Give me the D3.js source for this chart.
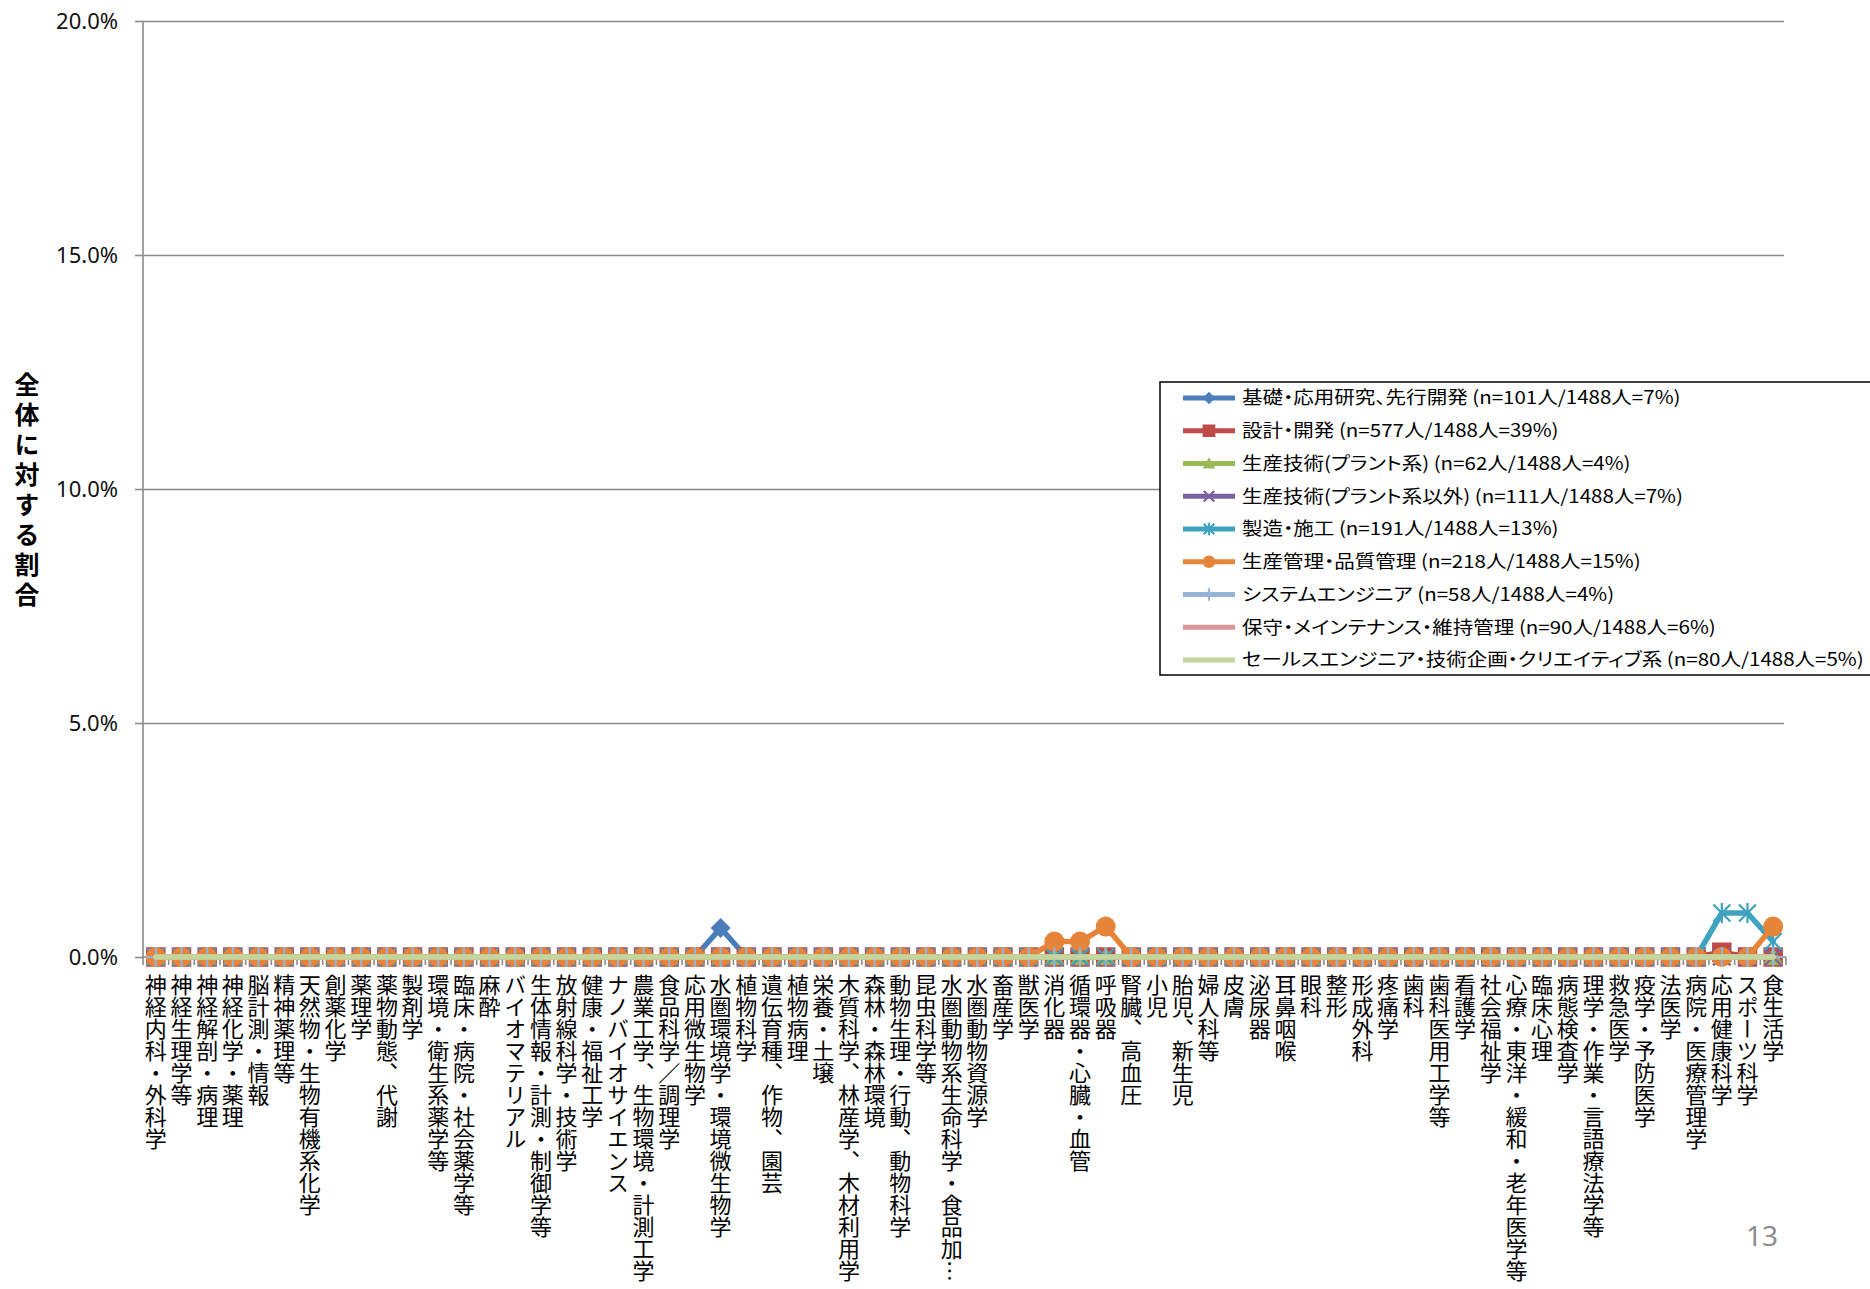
<!DOCTYPE html>
<html>
<head>
<meta charset="utf-8">
<script src="https://cdn.jsdelivr.net/npm/d3@7"></script>
<style>
  body { margin: 0; background: #fff; }
  svg { display: block; }
</style>
</head>
<body>
<svg id="chart" width="1870" height="1289"></svg>
<script>
// 研究分野（64区分）
const categories = [
  "神経内科・外科学", "神経生理学等", "神経解剖・病理", "神経化学・薬理", "脳計測・情報", "精神薬理等",
  "天然物・生物有機系化学", "創薬化学", "薬理学", "薬物動態、代謝", "製剤学", "環境・衛生系薬学等",
  "臨床・病院・社会薬学等", "麻酔", "バイオマテリアル", "生体情報・計測・制御学等", "放射線科学・技術学",
  "健康・福祉工学", "ナノバイオサイエンス", "農業工学、生物環境・計測工学", "食品科学／調理学", "応用微生物学",
  "水圏環境学・環境微生物学", "植物科学", "遺伝育種、作物、園芸", "植物病理", "栄養・土壌",
  "木質科学、林産学、木材利用学", "森林・森林環境", "動物生理・行動、動物科学", "昆虫科学等",
  "水圏動物系生命科学・食品加…", "水圏動物資源学", "畜産学", "獣医学", "消化器", "循環器・心臓・血管",
  "呼吸器", "腎臓、高血圧", "小児", "胎児、新生児", "婦人科等", "皮膚", "泌尿器", "耳鼻咽喉", "眼科",
  "整形", "形成外科", "疼痛学", "歯科", "歯科医用工学等", "看護学", "社会福祉学", "心療・東洋・緩和・老年医学等",
  "臨床心理", "病態検査学", "理学・作業・言語療法学等", "救急医学", "疫学・予防医学", "法医学",
  "病院・医療管理学", "応用健康科学", "スポーツ科学", "食生活学"
];

// 職種別の凡例ラベル
const seriesLabels = [
  "基礎・応用研究、先行開発 (n=101人/1488人=7%)",
  "設計・開発 (n=577人/1488人=39%)",
  "生産技術(プラント系) (n=62人/1488人=4%)",
  "生産技術(プラント系以外) (n=111人/1488人=7%)",
  "製造・施工 (n=191人/1488人=13%)",
  "生産管理・品質管理 (n=218人/1488人=15%)",
  "システムエンジニア (n=58人/1488人=4%)",
  "保守・メインテナンス・維持管理 (n=90人/1488人=6%)",
  "セールスエンジニア・技術企画・クリエイティブ系 (n=80人/1488人=5%)"
];

// 全体に対する割合（%）、分野の並び順
const kisoOyo = [
  0,0,0,0,0,0,0,0,
  0,0,0,0,0,0,0,0,
  0,0,0,0,0,0,0.62,0,
  0,0,0,0,0,0,0,0,
  0,0,0,0,0,0,0,0,
  0,0,0,0,0,0,0,0,
  0,0,0,0,0,0,0,0,
  0,0,0,0,0,0,0,0
];
const sekkeiKaihatsu = [
  0,0,0,0,0,0,0,0,
  0,0,0,0,0,0,0,0,
  0,0,0,0,0,0,0,0,
  0,0,0,0,0,0,0,0,
  0,0,0,0,0,0,0,0,
  0,0,0,0,0,0,0,0,
  0,0,0,0,0,0,0,0,
  0,0,0,0,0,0.1,0,0
];
const seisanPlant = [
  0,0,0,0,0,0,0,0,
  0,0,0,0,0,0,0,0,
  0,0,0,0,0,0,0,0,
  0,0,0,0,0,0,0,0,
  0,0,0,0,0,0,0,0,
  0,0,0,0,0,0,0,0,
  0,0,0,0,0,0,0,0,
  0,0,0,0,0,0,0,0
];
const seisanOther = [
  0,0,0,0,0,0,0,0,
  0,0,0,0,0,0,0,0,
  0,0,0,0,0,0,0,0,
  0,0,0,0,0,0,0,0,
  0,0,0,0,0,0,0,0,
  0,0,0,0,0,0,0,0,
  0,0,0,0,0,0,0,0,
  0,0,0,0,0,0,0,0
];
const seizoSeko = [
  0,0,0,0,0,0,0,0,
  0,0,0,0,0,0,0,0,
  0,0,0,0,0,0,0,0,
  0,0,0,0,0,0,0,0,
  0,0,0,0,0,0,0,0,
  0,0,0,0,0,0,0,0,
  0,0,0,0,0,0,0,0,
  0,0,0,0,0,0.94,0.94,0.33
];
const seisanKanri = [
  0,0,0,0,0,0,0,0,
  0,0,0,0,0,0,0,0,
  0,0,0,0,0,0,0,0,
  0,0,0,0,0,0,0,0,
  0,0,0,0.33,0.33,0.65,0,0,
  0,0,0,0,0,0,0,0,
  0,0,0,0,0,0,0,0,
  0,0,0,0,0,0,0,0.65
];
const systemEng = [
  0,0,0,0,0,0,0,0,
  0,0,0,0,0,0,0,0,
  0,0,0,0,0,0,0,0,
  0,0,0,0,0,0,0,0,
  0,0,0,0,0,0,0,0,
  0,0,0,0,0,0,0,0,
  0,0,0,0,0,0,0,0,
  0,0,0,0,0,0,0,0
];
const hoshuIji = [
  0,0,0,0,0,0,0,0,
  0,0,0,0,0,0,0,0,
  0,0,0,0,0,0,0,0,
  0,0,0,0,0,0,0,0,
  0,0,0,0,0,0,0,0,
  0,0,0,0,0,0,0,0,
  0,0,0,0,0,0,0,0,
  0,0,0,0,0,0,0,0
];
const salesEng = [
  0,0,0,0,0,0,0,0,
  0,0,0,0,0,0,0,0,
  0,0,0,0,0,0,0,0,
  0,0,0,0,0,0,0,0,
  0,0,0,0,0,0,0,0,
  0,0,0,0,0,0,0,0,
  0,0,0,0,0,0,0,0,
  0,0,0,0,0,0,0,0
];

const yTicks = [0, 5, 10, 15, 20];
const yTitle = "全体に対する割合";
const pageNumber = "13";

const seriesValues = [kisoOyo, sekkeiKaihatsu, seisanPlant, seisanOther, seizoSeko,
                      seisanKanri, systemEng, hoshuIji, salesEng];

// 描画スタイル（線色・マーカー）
const styles = [
  { line: "#4A7EBB", fill: "#4A7EBB", marker: "diamond" },
  { line: "#BE4B48", fill: "#BE4B48", marker: "square" },
  { line: "#98B954", fill: "#98B954", marker: "triangle" },
  { line: "#7D60A0", fill: "#7D60A0", marker: "x" },
  { line: "#3FA3BF", fill: "#3FA3BF", marker: "star" },
  { line: "#E6853A", fill: "#E6853A", marker: "circle" },
  { line: "#95B3D7", fill: "#95B3D7", marker: "plus" },
  { line: "#D99694", fill: "#D99694", marker: null },
  { line: "#C3D69B", fill: "#C3D69B", marker: null }
];

const plot = { left: 143, right: 1786, top: 21, bottom: 957 };
const svg = d3.select("#chart");
const cjk = "'Noto Sans CJK JP', 'Noto Sans', sans-serif";

const x = d3.scaleBand().domain(categories).range([plot.left, plot.right]);
const bw = x.bandwidth();
const cx = c => x(c) + bw / 2;
const y = d3.scaleLinear().domain([0, 20]).range([plot.bottom, plot.top]);

// 目盛線
const grid = svg.append("g")
  .attr("transform", `translate(${plot.left},0)`)
  .call(d3.axisLeft(y).tickValues(yTicks.filter(t => t > 0)).tickSize(-(plot.right - 2 - plot.left)).tickFormat(""));
grid.select(".domain").remove();
grid.selectAll("line").attr("stroke", "#8a8a8a").attr("stroke-width", 1.6);

// 縦軸
const yAxis = svg.append("g")
  .attr("transform", `translate(${plot.left},0)`)
  .call(d3.axisLeft(y).tickValues(yTicks).tickSize(8).tickPadding(17)
    .tickFormat(d => d.toFixed(1) + "%"));
yAxis.select(".domain").attr("stroke", "#8a8a8a").attr("stroke-width", 1.6)
  .attr("d", `M0,${plot.top}V${plot.bottom}`);
yAxis.selectAll(".tick line").attr("stroke", "#8a8a8a").attr("stroke-width", 1.6);
yAxis.selectAll(".tick text")
  .attr("fill", "#111")
  .style("font-family", "'Noto Sans', sans-serif")
  .style("font-size", "22px");

// 横軸
svg.append("line")
  .attr("x1", plot.left).attr("x2", plot.right)
  .attr("y1", plot.bottom).attr("y2", plot.bottom)
  .attr("stroke", "#8a8a8a").attr("stroke-width", 1.6);
svg.append("g").selectAll("line")
  .data(categories.concat([null]))
  .join("line")
  .attr("x1", d => d === null ? plot.right : x(d))
  .attr("x2", d => d === null ? plot.right : x(d))
  .attr("y1", plot.bottom).attr("y2", plot.bottom + 8)
  .attr("stroke", "#8a8a8a").attr("stroke-width", 1.6);

// 分野ラベル（縦書き）
svg.append("g").selectAll("text")
  .data(categories)
  .join("text")
  .attr("x", d => cx(d))
  .attr("y", 974)
  .style("writing-mode", "vertical-rl")
  .style("font-family", cjk)
  .style("font-size", "22px")
  .attr("fill", "#000")
  .text(d => d);

// マーカー
function drawMarker(g, type, color, s) {
  const r = 10 * s;
  if (type === "diamond") {
    g.append("path").attr("d", `M0,${-r}L${r},0L0,${r}L${-r},0Z`).attr("fill", color);
  } else if (type === "square") {
    const h = 9 * s;
    g.append("path").attr("d", `M${-h},${-h}H${h}V${h}H${-h}Z`)
      .attr("fill", color).attr("stroke", color).attr("stroke-width", 1.5);
  } else if (type === "triangle") {
    g.append("path").attr("d", `M0,${-r}L${r},${0.8 * r}L${-r},${0.8 * r}Z`).attr("fill", color);
  } else if (type === "x") {
    const h = 8.5 * s;
    g.append("path").attr("d", `M${-h},${-h}L${h},${h}M${-h},${h}L${h},${-h}`)
      .attr("stroke", color).attr("stroke-width", 2.2).attr("fill", "none");
  } else if (type === "star") {
    const h = 8.5 * s;
    g.append("path").attr("d", `M${-h},${-h}L${h},${h}M${-h},${h}L${h},${-h}M0,${-r}V${r}`)
      .attr("stroke", color).attr("stroke-width", 2.2).attr("fill", "none");
  } else if (type === "circle") {
    g.append("circle").attr("r", r).attr("fill", color);
  } else if (type === "plus") {
    g.append("path").attr("d", `M0,${-r}V${r}M${-r},0H${r}`)
      .attr("stroke", color).attr("stroke-width", 2.2).attr("fill", "none");
  }
}

// 系列（線＋マーカー）
const line = d3.line().x((d, i) => cx(categories[i])).y(d => y(d));
seriesValues.forEach((vals, k) => {
  const st = styles[k];
  const g = svg.append("g");
  g.append("path")
    .datum(vals)
    .attr("d", line)
    .attr("fill", "none")
    .attr("stroke", st.line)
    .attr("stroke-width", 5.5)
    .attr("stroke-linejoin", "round")
    .attr("stroke-linecap", "round");
  if (st.marker) {
    vals.forEach((v, i) => {
      const m = g.append("g").attr("transform", `translate(${cx(categories[i])},${y(v)})`);
      drawMarker(m, st.marker, st.fill, 1);
    });
  }
});

// 縦軸タイトル
svg.append("text")
  .attr("x", 27)
  .attr("y", 372)
  .style("writing-mode", "vertical-rl")
  .style("font-family", cjk)
  .style("font-size", "25px")
  .style("font-weight", "bold")
  .style("letter-spacing", "5px")
  .attr("fill", "#000")
  .text(yTitle);

// 凡例
const legendBox = { x: 1160, y: 382, w: 730, h: 293, rowTop: 398, rowStep: 32.75 };
const legend = svg.append("g");
legend.append("rect")
  .attr("x", legendBox.x).attr("y", legendBox.y)
  .attr("width", legendBox.w).attr("height", legendBox.h)
  .attr("fill", "#fff").attr("stroke", "#000").attr("stroke-width", 1.5);
seriesLabels.forEach((lab, k) => {
  const st = styles[k];
  const ly = legendBox.rowTop + k * legendBox.rowStep;
  const item = legend.append("g");
  item.append("line")
    .attr("x1", 1183).attr("x2", 1235).attr("y1", ly).attr("y2", ly)
    .attr("stroke", st.line).attr("stroke-width", 5);
  if (st.marker) {
    drawMarker(item.append("g").attr("transform", `translate(1209,${ly})`), st.marker, st.fill, 0.62);
  }
  // 約物・かなは詰めて組む
  item.append("text")
    .attr("transform", `translate(1242,${ly}) scale(1.14,1)`)
    .attr("dy", "0.36em")
    .style("font-family", cjk)
    .style("font-size", "18px")
    .style("font-feature-settings", "'palt' 1")
    .attr("fill", "#000")
    .text(lab);
});

// ページ番号
svg.append("text")
  .attr("x", 1762).attr("y", 1246)
  .attr("text-anchor", "middle")
  .style("font-family", "'Noto Sans', sans-serif")
  .style("font-size", "28px")
  .attr("fill", "#8c8c8c")
  .text(pageNumber);
</script>
</body>
</html>
